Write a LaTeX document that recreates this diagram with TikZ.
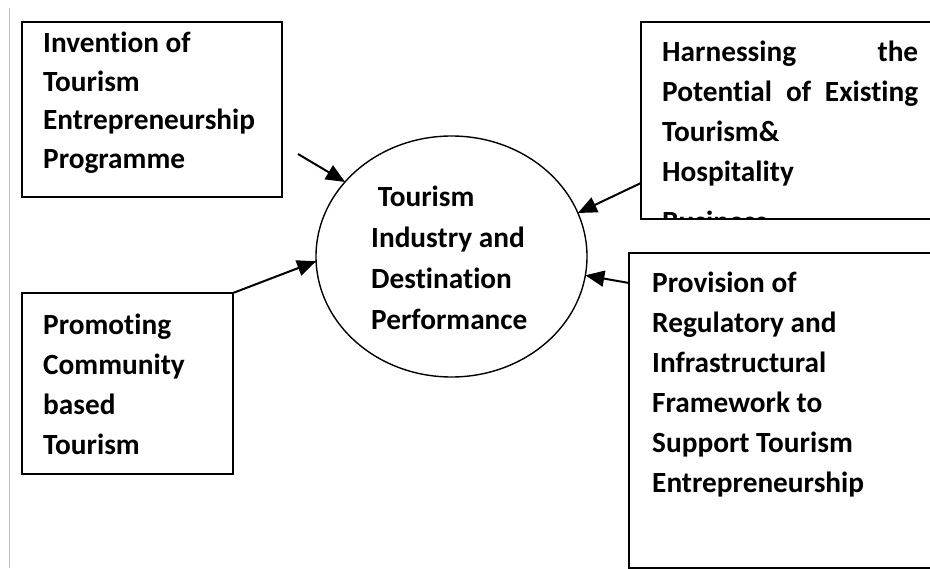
\documentclass[tikz,border=0pt]{standalone}
\usepackage{fontspec}
\setmainfont[Ligatures=NoCommon]{Carlito}
\usetikzlibrary{arrows.meta,shapes.geometric}

\begin{document}
\begin{tikzpicture}[
x=1pt, y=-1pt,
box/.style={draw, line width=1.4pt, anchor=north west, inner sep=0pt, outer sep=0pt},
txt/.style={anchor=base west, inner sep=0pt, font=\bfseries\fontsize{29.3}{#1}\selectfont},
txt/.default=40pt,
hub/.style={draw, ellipse, line width=1.4pt, minimum width=271pt, minimum height=241pt, inner sep=0pt, outer sep=0pt},
feed/.style={-{Triangle[length=19pt,width=16pt]}, line width=2pt}
]
\path[use as bounding box, clip] (0,0) rectangle (930,569);

% page rule on the left
\draw[black!25, line width=1pt] (9.5,8) -- (9.5,568);

% central ellipse
\node[hub] (perf) at (451.5,256.5) {};
\node[txt=41pt] (perftxt) at (371,207) {\parbox[t]{220pt}{~Tourism\\Industry and\\Destination\\Performance}};

% four surrounding boxes
\node[box, minimum width=260pt, minimum height=175pt] (invent) at (22,22) {};
\node[txt=38.5pt] (inventtxt) at (43,53) {\parbox[t]{230pt}{Invention of\\Tourism\\Entrepreneurship\\~Programme}};

\node[box, minimum width=291pt, minimum height=197pt] (harness) at (641,22) {};
\begin{scope}
\clip (harness.north west) rectangle (harness.south east);
\node[txt] (harnesstxt) at (662,62) {\parbox[t]{270pt}{\makebox[256pt][s]{Harnessing the}\\\makebox[256pt][s]{Potential of Existing}\\Tourism\&\\Hospitality\\[10pt]Business}};
\end{scope}

\node[box, minimum width=211pt, minimum height=181pt] (promo) at (22,293) {};
\node[txt] (promotxt) at (43,335) {\parbox[t]{190pt}{Promoting\\Community\\based\\Tourism}};

\node[box, minimum width=303pt, minimum height=315pt] (provis) at (629,253) {};
\node[txt] (provistxt) at (652,293) {\parbox[t]{270pt}{Provision of\\Regulatory and\\Infrastructural\\Framework to\\Support Tourism\\Entrepreneurship}};

% arrows into the ellipse
\coordinate (invent-out) at (298,154);
\draw[feed] (invent-out) -- (perf.145);
\draw[feed] (harness.west |- 0,183) -- (perf.19);
\draw[feed] (promo.north east) -- (perf.182);
\draw[feed] (provis.west |- 0,283) -- (perf.-8);
\end{tikzpicture}
\end{document}
